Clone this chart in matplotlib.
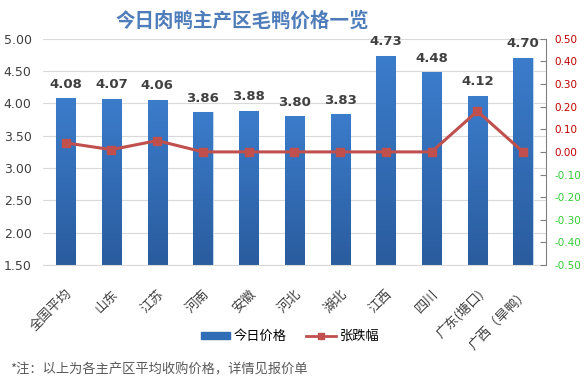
import matplotlib
matplotlib.use('Agg')
import matplotlib.pyplot as plt
import numpy as np
from matplotlib.colors import LinearSegmentedColormap
from matplotlib.patches import Patch
from matplotlib.lines import Line2D

plt.rcParams['font.family'] = ['Noto Sans CJK SC', 'DejaVu Sans']

# data
regions = ['全国平均', '山东', '江苏', '河南', '安徽', '河北', '湖北', '江西', '四川',
           '广东(塘口)', '广西（旱鸭）']
prices = [4.08, 4.07, 4.06, 3.86, 3.88, 3.80, 3.83, 4.73, 4.48, 4.12, 4.70]
changes = [0.04, 0.01, 0.05, 0.00, 0.00, 0.00, 0.00, 0.00, 0.00, 0.18, 0.00]
left_ticks = [1.5, 2.0, 2.5, 3.0, 3.5, 4.0, 4.5, 5.0]
right_ticks = [-0.5, -0.4, -0.3, -0.2, -0.1, 0.0, 0.1, 0.2, 0.3, 0.4, 0.5]

bar_color = '#2F6DB5'
line_color = '#C0504D'
grad = LinearSegmentedColormap.from_list('bars', ['#2A5C9E', '#3B7CCB'])

fig = plt.figure(figsize=(5.87, 3.88), dpi=100)
ax = fig.add_axes([0.073, 0.317, 0.857, 0.583])
x = np.arange(len(regions))

bars = ax.bar(x, [p - 1.5 for p in prices], bottom=1.5, width=0.42,
              color=bar_color, edgecolor='#BDD7EE', linewidth=0.8, zorder=2)
# vertical gradient inside each bar
g = np.linspace(0, 1, 100).reshape(-1, 1)
for b in bars:
    bx, by = b.get_x(), b.get_y()
    im = ax.imshow(g, cmap=grad, origin='lower', aspect='auto', zorder=2.5,
                   extent=(bx, bx + b.get_width(), by, by + b.get_height()))
    im.set_clip_path(b)

for xi, p in zip(x, prices):
    ax.text(xi, p + 0.12, f'{p:.2f}', ha='center', va='bottom', fontsize=9.5,
            fontweight='bold', color='#404040', family='DejaVu Sans', zorder=4)

ax.set_ylim(1.5, 5.0)
ax.set_yticks(left_ticks)
ax.set_yticklabels([f'{t:.2f}' for t in left_ticks], fontsize=9,
                   color='#404040', family='DejaVu Sans')
ax.set_xlim(-0.5, len(regions) - 0.5)
ax.set_xticks(x)
ax.set_xticklabels(regions, rotation=45, ha='right', rotation_mode='anchor',
                   fontsize=9.5, color='#404040')
ax.grid(axis='y', color='#D9D9D9', linewidth=0.8, zorder=0)
ax.tick_params(axis='y', length=0, pad=8)
ax.tick_params(axis='x', length=0, pad=16)
for s in ['top', 'left', 'right']:
    ax.spines[s].set_visible(False)
ax.spines['bottom'].set_color('#D9D9D9')

ax2 = ax.twinx()
ax2.plot(x, changes, color=line_color, linewidth=2.2, marker='s', markersize=6,
         zorder=5)
ax2.set_ylim(-0.5, 0.5)
ax2.set_yticks(right_ticks)
ax2.set_yticklabels([f'{t:.2f}' for t in right_ticks], fontsize=7.5,
                    family='DejaVu Sans')
for lbl, t in zip(ax2.get_yticklabels(), right_ticks):
    lbl.set_color('#C00000' if t >= 0 else '#33CC33')
for s in ['top', 'left', 'bottom']:
    ax2.spines[s].set_visible(False)
ax2.spines['right'].set_color('#808080')
ax2.tick_params(axis='y', length=4, color='#808080', direction='in', pad=6)

fig.text(0.413, 0.945, '今日肉鸭主产区毛鸭价格一览', ha='center', va='center',
         fontsize=14, fontweight='bold', color='#4F7DBA')

handles = [Patch(color=bar_color, label='今日价格'),
           Line2D([0], [0], color=line_color, linewidth=2, marker='s',
                  markersize=5, label='张跌幅')]
fig.legend(handles=handles, loc='center', bbox_to_anchor=(0.494, 0.132),
           ncol=2, frameon=False, fontsize=9.5, handlelength=2.2,
           handleheight=0.5, columnspacing=1.5, handletextpad=0.3)

fig.text(0.017, 0.046, '*注：以上为各主产区平均收购价格，详情见报价单',
         fontsize=9.5, color='#595959', ha='left', va='center')

fig.savefig('out.png', dpi=100)
